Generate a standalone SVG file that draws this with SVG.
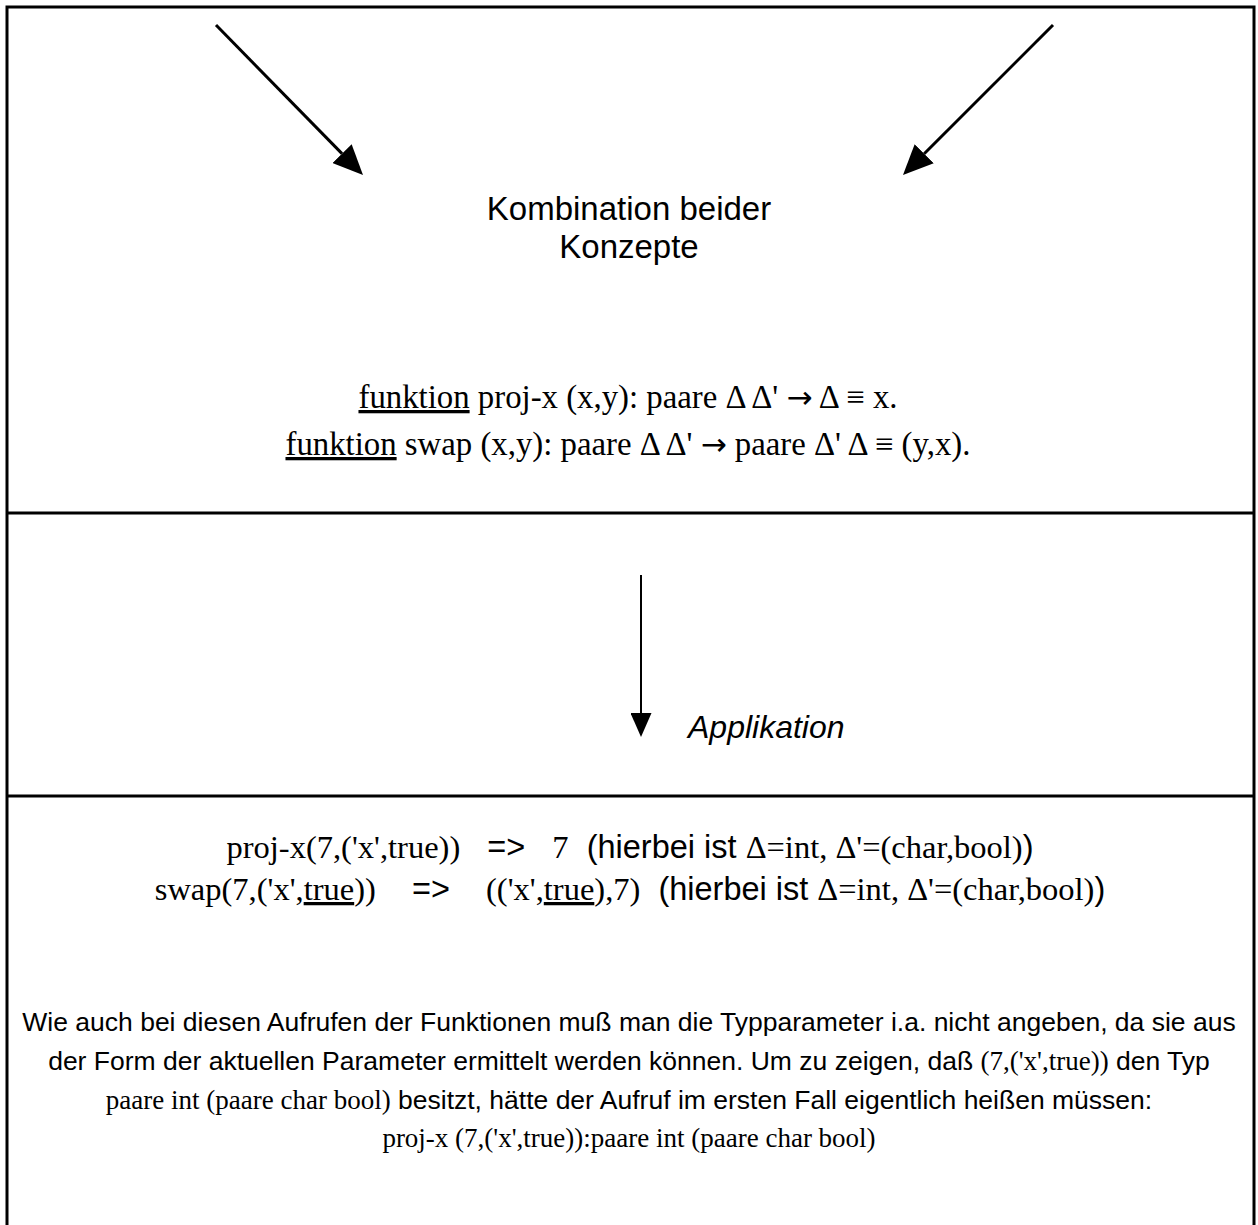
<svg xmlns="http://www.w3.org/2000/svg" width="1258" height="1225" viewBox="0 0 1258 1225">
  <style>
    .sans { font-family: "Liberation Sans", Arial, sans-serif; }
    .serif { font-family: "Liberation Serif", "Times New Roman", serif; }
    .sym { font-family: "DejaVu Sans", sans-serif; }
    .frame { fill: none; stroke: #000; stroke-width: 3; }
    .rule { stroke: #000; stroke-width: 3; }
    .conn { stroke: #000; fill: none; }
    .u { text-decoration: underline; }
  </style>
  <defs>
    <marker id="headBig" viewBox="0 0 30 27" refX="0" refY="13.5" markerWidth="30" markerHeight="27" markerUnits="userSpaceOnUse" orient="auto">
      <path d="M0,0 L30,13.5 L0,27 Z" fill="#000"/>
    </marker>
    <marker id="headSmall" viewBox="0 0 24 21" refX="0" refY="10.5" markerWidth="24" markerHeight="21" markerUnits="userSpaceOnUse" orient="auto">
      <path d="M0,0 L24,10.5 L0,21 Z" fill="#000"/>
    </marker>
  </defs>

  <rect width="1258" height="1225" fill="#fff"/>

  <!-- outer frame, open towards the bottom of the page -->
  <g id="frame">
    <rect class="frame" x="7" y="7" width="1247" height="1240"/>
    <line class="rule" x1="7" y1="513" x2="1254" y2="513"/>
    <line class="rule" x1="7" y1="796" x2="1254" y2="796"/>
  </g>

  <!-- panel 1: combination of both concepts -->
  <g id="combination">
    <text class="sans" font-size="33" x="629" y="220" text-anchor="middle">Kombination beider</text>
    <text class="sans" font-size="33" x="629" y="258" text-anchor="middle">Konzepte</text>
  </g>
  <g id="definitions" class="serif" font-size="32.8">
    <text x="628" y="408" text-anchor="middle"><tspan class="u">funktion</tspan> proj-x (x,y): paare Δ Δ' <tspan class="sym" font-size="31">→</tspan> Δ ≡ x.</text>
    <text x="628" y="455" text-anchor="middle"><tspan class="u">funktion</tspan> swap (x,y): paare Δ Δ' <tspan class="sym" font-size="31">→</tspan> paare Δ' Δ ≡ (y,x).</text>
  </g>

  <!-- panel 2: application label -->
  <g id="application">
    <text class="sans" font-size="32" font-style="italic" x="688" y="738">Applikation</text>
  </g>

  <!-- panel 3: calls and explanation -->
  <g id="calls" font-size="32.5">
    <text x="630" y="858" text-anchor="middle" xml:space="preserve"><tspan class="serif">proj-x(7,('x',true))</tspan><tspan class="sans">   =&gt;   </tspan><tspan class="serif">7</tspan><tspan class="sans">  (hierbei ist </tspan><tspan class="serif">Δ=int, Δ'=(char,bool)</tspan><tspan class="sans">)</tspan></text>
    <text x="630" y="900" text-anchor="middle" xml:space="preserve"><tspan class="serif">swap(7,('x',<tspan class="u">true</tspan>))</tspan><tspan class="sans">    =&gt;    </tspan><tspan class="serif">(('x',<tspan class="u">true</tspan>),7)</tspan><tspan class="sans">  (hierbei ist </tspan><tspan class="serif">Δ=int, Δ'=(char,bool)</tspan><tspan class="sans">)</tspan></text>
  </g>
  <g id="explanation" font-size="26.5">
    <text class="sans" x="629" y="1031" text-anchor="middle">Wie auch bei diesen Aufrufen der Funktionen muß man die Typparameter i.a. nicht angeben, da sie aus</text>
    <text x="629" y="1070" text-anchor="middle" xml:space="preserve"><tspan class="sans">der Form der aktuellen Parameter ermittelt werden können. Um zu zeigen, daß </tspan><tspan class="serif" font-size="27">(7,('x',true))</tspan><tspan class="sans"> den Typ</tspan></text>
    <text x="629" y="1109" text-anchor="middle" xml:space="preserve"><tspan class="serif" font-size="27">paare int (paare char bool)</tspan><tspan class="sans"> besitzt, hätte der Aufruf im ersten Fall eigentlich heißen müssen:</tspan></text>
    <text class="serif" font-size="27" x="629" y="1147" text-anchor="middle">proj-x (7,('x',true)):paare int (paare char bool)</text>
  </g>

  <!-- connectors -->
  <g id="connectors" class="conn">
    <line x1="216" y1="25" x2="342" y2="153.6" stroke-width="3" marker-end="url(#headBig)"/>
    <line x1="1053" y1="25" x2="924.2" y2="153.8" stroke-width="3" marker-end="url(#headBig)"/>
    <line x1="641" y1="575" x2="641" y2="713" stroke-width="2" marker-end="url(#headSmall)"/>
  </g>
</svg>
